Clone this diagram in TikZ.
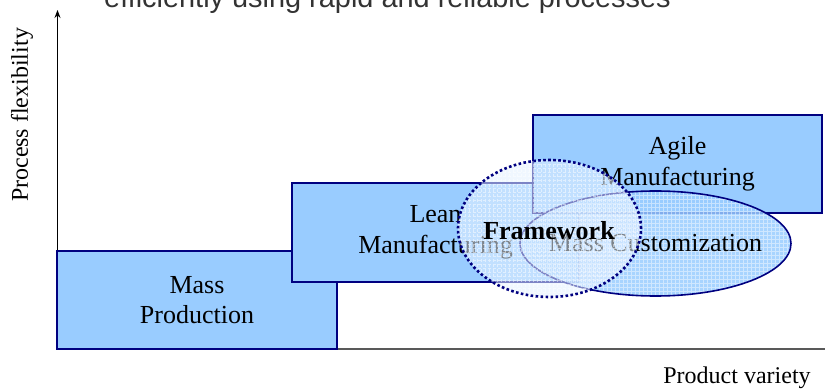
\documentclass[tikz,border=0pt]{standalone}
\usepackage{fontspec}
\setmainfont{Liberation Serif}
\newfontfamily\titlefont{Liberation Sans}
\usetikzlibrary{shapes.geometric,arrows.meta}
\definecolor{boxblue}{HTML}{99CCFF}
\definecolor{navyline}{HTML}{000080}
\definecolor{fwblue}{HTML}{E4F1FF}
\definecolor{titlegray}{HTML}{333333}
\begin{document}
\begin{tikzpicture}[x=1pt,y=-1pt,
  blk/.style={draw=navyline, line width=1.6pt, fill=boxblue, rectangle, inner sep=0pt,
    align=center, font=\fontsize{26}{30.5}\selectfont},
  lbl/.style={font=\fontsize{24}{28}\selectfont, inner sep=0pt},
  gridtex/.style={path picture={\draw[white, opacity=#1, line width=0.5pt, step=4pt]
    (path picture bounding box.south west) grid (path picture bounding box.north east);}}
]
\useasboundingbox (0,0) rectangle (825,390);
% title (cut by the top edge)
\node[anchor=base west, font=\titlefont\fontsize{28.9}{32}\selectfont, text=titlegray, inner sep=0pt]
  (title) at (104,8) {efficiently using rapid and reliable processes};
% axes
\coordinate (o) at (57.5,349);
\coordinate (ytip) at (57.5,10);
\coordinate (xend) at (825,349);
\draw[black, line width=1pt, -{Stealth[length=8pt,width=6pt]}] (o) -- (ytip);
\draw[black!65, line width=1.2pt] (o) -- (xend);
\node[lbl, rotate=90] (ylab) at (22,115) {Process flexibility};
\node[lbl] (xlab) at (737,378) {Product variety};
% boxes
\node[blk, minimum width=280pt, minimum height=98pt] (mass) at (197,300) {Mass\\Production};
\node[blk, minimum width=287pt, minimum height=99pt] (lean) at (435.5,232.5) {Lean\\Manufacturing};
\node[blk, minimum width=289pt, minimum height=98pt] (agile) at (677.5,164) {Agile\\Manufacturing};
% mass customization ellipse
\node[ellipse, draw=navyline, line width=1.6pt, fill=boxblue, fill opacity=0.85,
  gridtex=0.45, minimum width=271pt, minimum height=105pt, inner sep=0pt] (mc) at (655.5,243.5) {};
\node[font=\fontsize{26}{30}\selectfont, inner sep=0pt] (mctext) at (655.5,243.5) {Mass Customization};
% framework
\node[ellipse, draw=navyline, line width=2.6pt, dash pattern=on 2.6pt off 2.4pt,
  fill=fwblue, fill opacity=0.55, gridtex=0.5, minimum width=183pt, minimum height=137pt,
  inner sep=0pt] (fw) at (549.5,228.5) {};
\node[font=\bfseries\fontsize{26}{30}\selectfont, inner sep=0pt] (fwtext) at (549,231) {Framework};
\end{tikzpicture}
\end{document}
